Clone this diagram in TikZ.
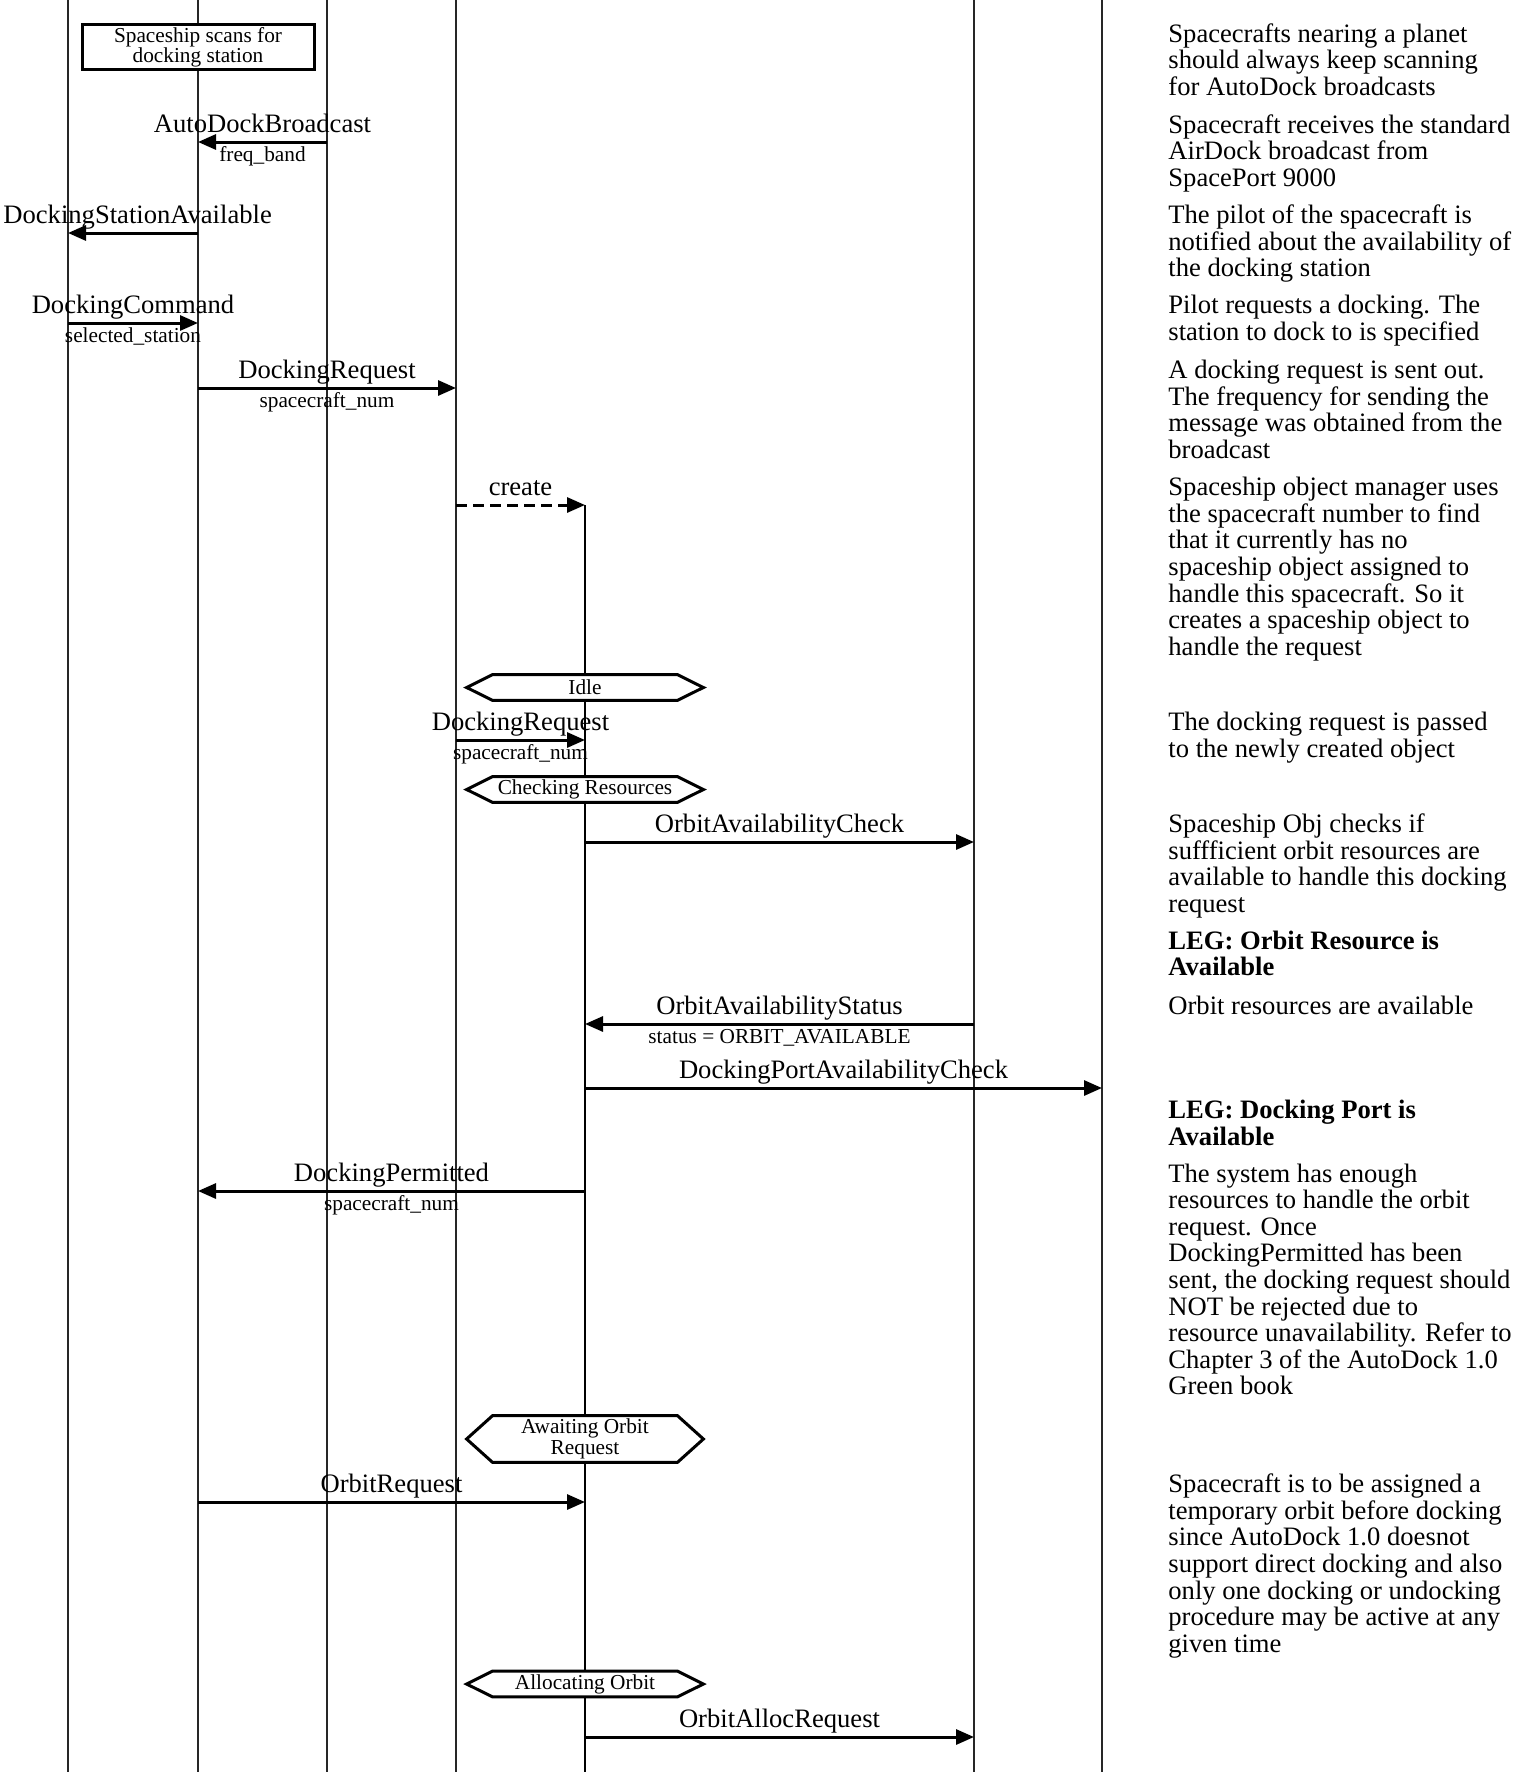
\documentclass[tikz,border=0pt]{standalone}
\usepackage{fontspec}
\setmainfont{Liberation Serif}
\usetikzlibrary{arrows.meta,calc}
\begin{document}
\begin{tikzpicture}[x=0.5pt,y=-0.5pt,
  life/.style={line width=0.55pt, black!85},
  msg/.style={line width=1.5pt, -{Triangle[length=9pt,width=7.5pt]}},
  createmsg/.style={msg, dash pattern=on 5.5pt off 3pt},
  lbl/.style={font=\fontsize{13.3}{13.3}\selectfont, anchor=base, inner sep=0pt},
  prm/.style={font=\fontsize{10.65}{10.65}\selectfont, anchor=base, inner sep=0pt},
  note/.style={font=\fontsize{13.3}{13.3}\selectfont, anchor=base west, align=left, inner sep=0pt},
  legnote/.style={note, font=\fontsize{13.3}{13.3}\selectfont\bfseries},
  actbox/.style={draw, fill=white, line width=1.5pt, minimum width=116pt, minimum height=22.5pt, inner sep=0pt, align=center, font=\fontsize{10.65}{10.15}\selectfont},
  statelbl/.style={inner sep=0pt, minimum width=92pt, align=center, font=\fontsize{10.65}{10.15}\selectfont},
  hexb/.style={line width=1.5pt, line join=miter, fill=white},
]
\useasboundingbox (0,0) rectangle (1520,1772);

% lifelines
\foreach \n/\x in {la/68,lb/198,lc/327,ld/456,lf/974,lg/1102}{
  \coordinate (\n top) at (\x,0);
  \coordinate (\n bot) at (\x,1772);
  \draw[life] (\n top) -- (\n bot);
}
\coordinate (le top) at (585,505);
\coordinate (le bot) at (585,1772);
\draw[life, black] (le top) -- (le bot);

% action box
\node[actbox] (scan) at (198,47) {Spaceship scans for\\docking station};

% messages
\coordinate (m1s) at (327,142); \coordinate (m1e) at (198,142);
\draw[msg] (m1s) -- (m1e);
\node[lbl] (m1l) at ($(m1s)!0.5!(m1e)+(0,-9.3)$) {AutoDockBroadcast};
\node[prm] (m1p) at ($(m1s)!0.5!(m1e)+(0,19.5)$) {freq\_band};

\coordinate (m2s) at (198,233); \coordinate (m2e) at (68,233);
\draw[msg] (m2s) -- (m2e);
\node[lbl, anchor=base west] (m2l) at (3,223.7) {DockingStationAvailable};

\coordinate (m3s) at (68,323); \coordinate (m3e) at (198,323);
\draw[msg] (m3s) -- (m3e);
\node[lbl] (m3l) at ($(m3s)!0.5!(m3e)+(0,-9.3)$) {DockingCommand};
\node[prm] (m3p) at ($(m3s)!0.5!(m3e)+(0,19.5)$) {selected\_station};

\coordinate (m4s) at (198,388); \coordinate (m4e) at (456,388);
\draw[msg] (m4s) -- (m4e);
\node[lbl] (m4l) at ($(m4s)!0.5!(m4e)+(0,-9.3)$) {DockingRequest};
\node[prm] (m4p) at ($(m4s)!0.5!(m4e)+(0,19.5)$) {spacecraft\_num};

\coordinate (m5s) at (456,505);
\draw[createmsg] (m5s) -- (le top);
\node[lbl] (m5l) at ($(m5s)!0.5!(le top)+(0,-9.3)$) {create};

% state Idle
\node[statelbl, minimum height=12.5pt] (s1) at (585,687.5) {};
\draw[hexb] (s1.north west) -- (s1.north east) -- ($(s1.east)+(26,0)$) -- (s1.south east) -- (s1.south west) -- ($(s1.west)+(-26,0)$) -- cycle;
\node[statelbl, minimum height=12.5pt] (s1t) at (s1) {Idle};

\coordinate (m6s) at (456,740); \coordinate (m6e) at (585,740);
\draw[msg] (m6s) -- (m6e);
\node[lbl] (m6l) at ($(m6s)!0.5!(m6e)+(0,-9.3)$) {DockingRequest};
\node[prm] (m6p) at ($(m6s)!0.5!(m6e)+(0,19.5)$) {spacecraft\_num};

% state Checking Resources
\node[statelbl, minimum height=12.5pt] (s2) at (585,789.5) {};
\draw[hexb] (s2.north west) -- (s2.north east) -- ($(s2.east)+(26,0)$) -- (s2.south east) -- (s2.south west) -- ($(s2.west)+(-26,0)$) -- cycle;
\node[statelbl, minimum height=12.5pt] (s2t) at (s2) {Checking Resources};

\coordinate (m7s) at (585,842); \coordinate (m7e) at (974,842);
\draw[msg] (m7s) -- (m7e);
\node[lbl] (m7l) at ($(m7s)!0.5!(m7e)+(0,-9.3)$) {OrbitAvailabilityCheck};

\coordinate (m8s) at (974,1024); \coordinate (m8e) at (585,1024);
\draw[msg] (m8s) -- (m8e);
\node[lbl] (m8l) at ($(m8s)!0.5!(m8e)+(0,-9.3)$) {OrbitAvailabilityStatus};
\node[prm] (m8p) at ($(m8s)!0.5!(m8e)+(0,19.5)$) {status = ORBIT\_AVAILABLE};

\coordinate (m9s) at (585,1088); \coordinate (m9e) at (1102,1088);
\draw[msg] (m9s) -- (m9e);
\node[lbl] (m9l) at ($(m9s)!0.5!(m9e)+(0,-9.3)$) {DockingPortAvailabilityCheck};

\coordinate (m10s) at (585,1191); \coordinate (m10e) at (198,1191);
\draw[msg] (m10s) -- (m10e);
\node[lbl] (m10l) at ($(m10s)!0.5!(m10e)+(0,-9.3)$) {DockingPermitted};
\node[prm] (m10p) at ($(m10s)!0.5!(m10e)+(0,19.5)$) {spacecraft\_num};

% state Awaiting Orbit Request
\node[statelbl, minimum height=23pt] (s3) at (585,1439) {};
\draw[hexb] (s3.north west) -- (s3.north east) -- ($(s3.east)+(26,0)$) -- (s3.south east) -- (s3.south west) -- ($(s3.west)+(-26,0)$) -- cycle;
\node[statelbl, minimum height=23pt] (s3t) at (s3) {Awaiting Orbit\\Request};

\coordinate (m11s) at (198,1502); \coordinate (m11e) at (585,1502);
\draw[msg] (m11s) -- (m11e);
\node[lbl] (m11l) at ($(m11s)!0.5!(m11e)+(0,-9.3)$) {OrbitRequest};

% state Allocating Orbit
\node[statelbl, minimum height=12.5pt] (s4) at (585,1684) {};
\draw[hexb] (s4.north west) -- (s4.north east) -- ($(s4.east)+(26,0)$) -- (s4.south east) -- (s4.south west) -- ($(s4.west)+(-26,0)$) -- cycle;
\node[statelbl, minimum height=12.5pt] (s4t) at (s4) {Allocating Orbit};

\coordinate (m12s) at (585,1737); \coordinate (m12e) at (974,1737);
\draw[msg] (m12s) -- (m12e);
\node[lbl] (m12l) at ($(m12s)!0.5!(m12e)+(0,-9.3)$) {OrbitAllocRequest};

% comments (base anchor = baseline of the last line)
\node[note] (c1) at (1168,95.2) {Spacecrafts nearing a planet\\should always keep scanning\\for AutoDock broadcasts};
\node[note] (c2) at (1168,186.2) {Spacecraft receives the standard\\AirDock broadcast from\\SpacePort 9000};
\node[note] (c3) at (1168,276.7) {The pilot of the spacecraft is\\notified about the availability of\\the docking station};
\node[note] (c4) at (1168,340.1) {Pilot requests a docking. The\\station to dock to is specified};
\node[note] (c5) at (1168,458.3) {A docking request is sent out.\\The frequency for sending the\\message was obtained from the\\broadcast};
\node[note] (c6) at (1168,655.3) {Spaceship object manager uses\\the spacecraft number to find\\that it currently has no\\spaceship object assigned to\\handle this spacecraft. So it\\creates a spaceship object to\\handle the request};
\node[note] (c7) at (1168,757.3) {The docking request is passed\\to the newly created object};
\node[note] (c8) at (1168,912.5) {Spaceship Obj checks if\\suffficient orbit resources are\\available to handle this docking\\request};
\node[legnote] (c9) at (1168,975.6) {LEG: Orbit Resource is\\Available};
\node[note] (c10) at (1168,1014.7) {Orbit resources are available};
\node[legnote] (c11) at (1168,1145.1) {LEG: Docking Port is\\Available};
\node[note] (c12) at (1168,1394.8) {The system has enough\\resources to handle the orbit\\request. Once\\DockingPermitted has been\\sent, the docking request should\\NOT be rejected due to\\resource unavailability. Refer to\\Chapter 3 of the AutoDock 1.0\\Green book};
\node[note] (c13) at (1168,1652.3) {Spacecraft is to be assigned a\\temporary orbit before docking\\since AutoDock 1.0 doesnot\\support direct docking and also\\only one docking or undocking\\procedure may be active at any\\given time};
\end{tikzpicture}
\end{document}
